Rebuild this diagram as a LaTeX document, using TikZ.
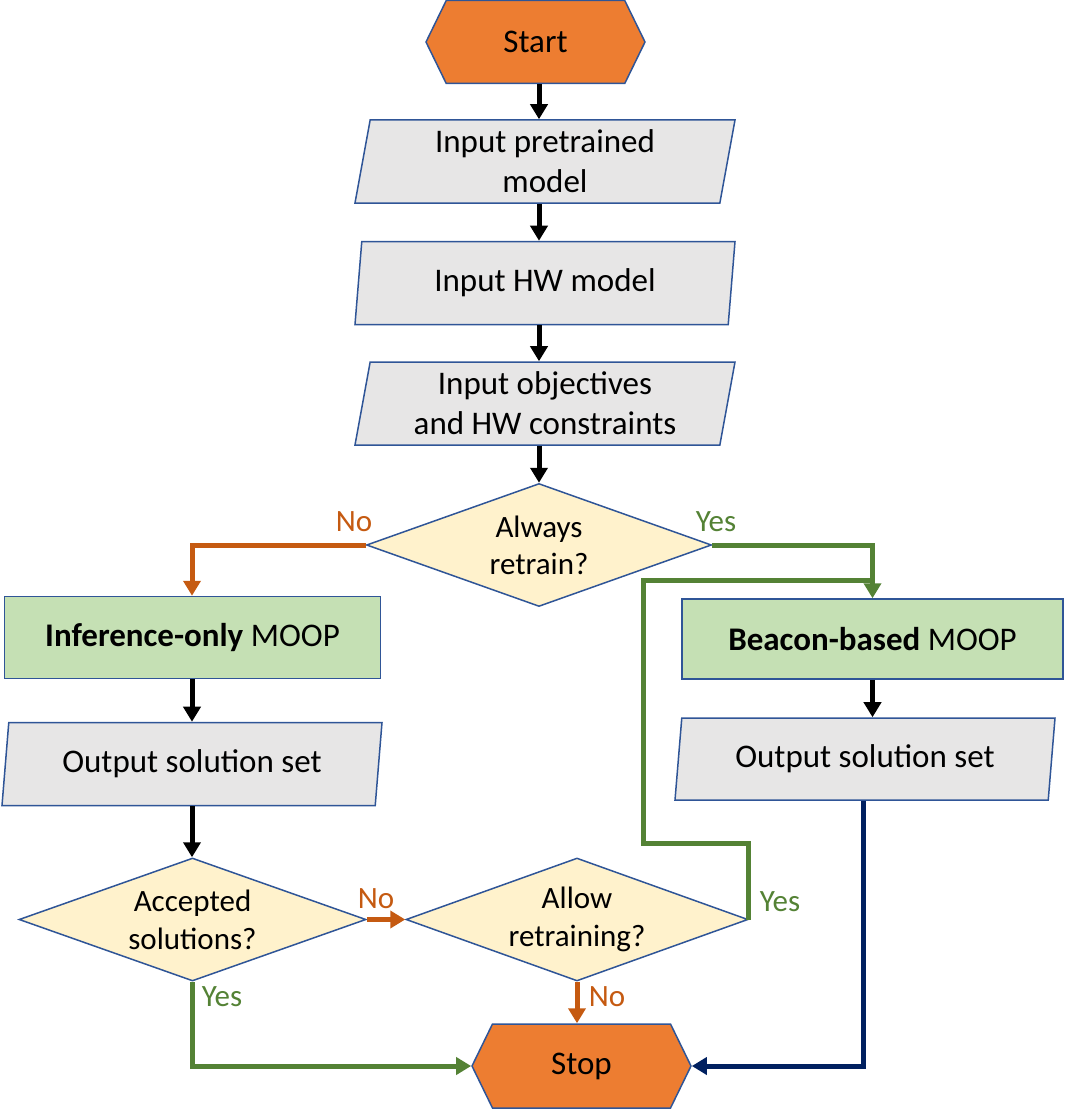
\documentclass[tikz,border=0pt]{standalone}
\usepackage{fontspec}
\setmainfont{Carlito}
\usetikzlibrary{shapes.geometric,shapes.symbols,arrows.meta}
\definecolor{termfill}{HTML}{ED7D31}
\definecolor{bordc}{HTML}{2F5597}
\definecolor{iofill}{HTML}{E7E6E6}
\definecolor{procfill}{HTML}{C5E0B4}
\definecolor{decfill}{HTML}{FFF2CC}
\definecolor{orline}{HTML}{C55A11}
\definecolor{grline}{HTML}{548235}
\definecolor{navline}{HTML}{002060}
\begin{document}
\begin{tikzpicture}[x=1pt,y=-1pt,
  base/.style={inner sep=0pt, draw=bordc, line width=1.5pt, align=center,
    font=\fontsize{33}{40}\selectfont},
  term/.style={base, signal, signal to=west and east, signal pointer angle=128,
    minimum width=219pt, minimum height=83pt, fill=termfill},
  iobox/.style={base, trapezium, trapezium left angle=76.5, trapezium right angle=103.5,
    trapezium stretches body, minimum width=380pt, minimum height=83pt, fill=iofill},
  procbox/.style={base, rectangle, minimum height=82pt, fill=procfill},
  decbox/.style={base, diamond, aspect=2.8, minimum height=123pt, fill=decfill},
  lab/.style={inner sep=0pt, font=\fontsize{31}{36}\selectfont},
  arr/.style={line width=5pt, -{Triangle[width=17pt,length=15pt]}},
  arrK/.style={arr, draw=black},
  arrO/.style={arr, draw=orline},
  arrG/.style={arr, draw=grline},
  arrN/.style={arr, draw=navline},
  lineG/.style={line width=5pt, draw=grline},
]
\useasboundingbox (0,0) rectangle (1068,1113);

% nodes
\node[term] (start) at (535.5,42) {Start};
\node[iobox] (in1) at (545,161.5) {Input pretrained\\model};
\node[iobox] (in2) at (545,283) {Input HW model};
\node[iobox] (in3) at (545,403.5) {Input objectives\\and HW constraints};
\node[decbox, minimum width=345pt, font=\fontsize{31}{37}\selectfont] (always) at (539,545) {Always\\retrain?};
\node[procbox, minimum width=376pt] (inf) at (192.5,637.5) {\textbf{Inference-only} MOOP};
\node[procbox, minimum width=381pt, minimum height=80pt] (beacon) at (872.5,639) {\textbf{Beacon-based} MOOP};
\node[iobox] (outL) at (192,764) {Output solution set};
\node[iobox, minimum height=82pt] (outR) at (865,759) {Output solution set};
\node[decbox, minimum width=347pt, font=\fontsize{31}{38}\selectfont] (acc) at (192.5,919.5) {Accepted\\solutions?};
\node[decbox, minimum width=342pt, font=\fontsize{31}{38}\selectfont] (allow) at (577,919.5) {Allow\\retraining?};
\node[term, minimum height=84pt] (stop) at (581.5,1066) {Stop};

% labels
\node[lab, text=orline] (lNo1) at (354,522) {No};
\node[lab, text=grline] (lYes1) at (716,522) {Yes};
\node[lab, text=orline] (lNo2) at (376,899) {No};
\node[lab, text=grline] (lYes2) at (780,902) {Yes};
\node[lab, text=grline] (lYes3) at (222,997) {Yes};
\node[lab, text=orline] (lNo3) at (607,997) {No};

% helper coordinates
\coordinate (ax) at (539,0);
\coordinate (lx) at (192,0);
\coordinate (l1) at (643,843);
\coordinate (l2) at (643,580);

% connectors
\draw[arrK] (start.south -| ax) -- (in1.north -| ax);
\draw[arrK] (in1.south -| ax) -- (in2.north -| ax);
\draw[arrK] (in2.south -| ax) -- (in3.north -| ax);
\draw[arrK] (in3.south -| ax) -- (always.north -| ax);
\draw[arrO] (always.west) -| (inf.north -| lx);
\draw[arrK] (inf.south -| lx) -- (outL.north -| lx);
\draw[arrK] (outL.south -| lx) -- (acc.north -| lx);
\draw[arrO] (acc.east) -- (allow.west);
\draw[arrG] (acc.south) |- (stop.west);
\draw[arrO] (allow.south) -- (allow.south |- stop.north);
\draw[lineG] (allow.east) |- (l1) -- (l2) -- ([xshift=2.5pt]l2 -| beacon.north);
\draw[arrG] (always.east) -| (beacon.north);
\draw[arrK] (beacon.south) -- (beacon.south |- outR.north);
\draw[arrN] (outR.south -| 863,0) |- (stop.east);
\end{tikzpicture}
\end{document}
